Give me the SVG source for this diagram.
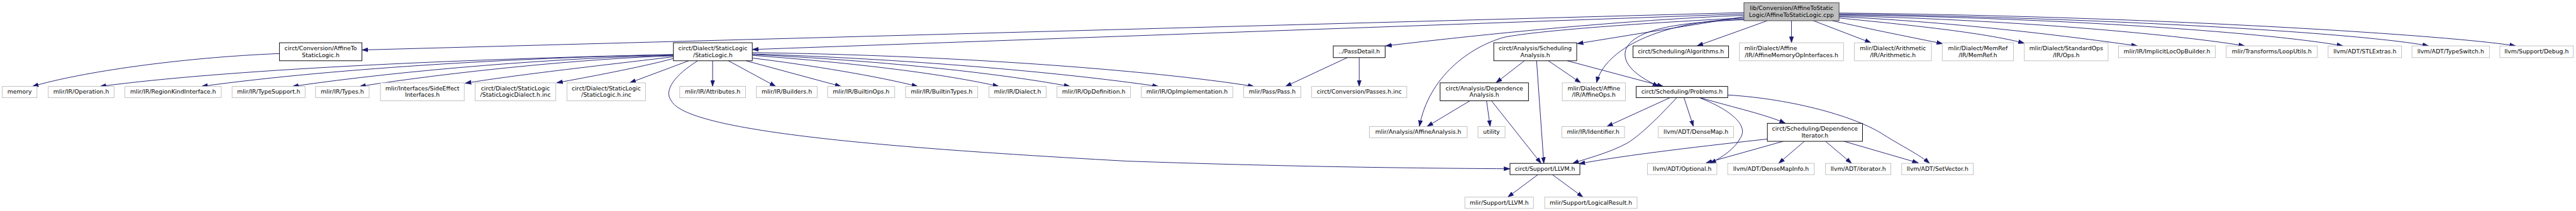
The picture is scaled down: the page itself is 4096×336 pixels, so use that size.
<svg xmlns="http://www.w3.org/2000/svg" width="4096" height="336" viewBox="0 0 4096 336">
<style>
.u rect{fill:#fff;stroke:#bfbfbf;stroke-width:1.33}
.d rect{fill:#fff;stroke:#000;stroke-width:1.33}
.r rect{fill:#bfbfbf;stroke:#404040;stroke-width:1.33}
text{font-family:"DejaVu Sans",sans-serif;font-size:13px;fill:#000;text-anchor:middle}
text.l{text-anchor:start}
#edges path{fill:none;stroke:#191970;stroke-width:1.3;marker-end:url(#ah)}
</style>
<defs>
<marker id="ah" markerUnits="userSpaceOnUse" markerWidth="14" markerHeight="10" refX="13.5" refY="5" orient="auto" viewBox="0 0 14 10">
<path d="M0,0.4 L13.5,5 L0,9.6 z" fill="#191970" stroke="#191970" stroke-width="0.8"/>
</marker>
</defs>
<rect width="4096" height="336" fill="#fff"/>
<g transform="scale(0.71671)">
<g id="edges">
<path d="M3869,28 L803,111"/>
<path d="M3869,31 L1669,110"/>
<path d="M3869,34 C3600,45 3300,75 3074,102"/>
<path d="M3869,40 C3700,48 3420,66 3336,83 C3260,105 3170,170 3149,281"/>
<path d="M3869,37 L3499,97"/>
<path d="M3921,46 L3765,102"/>
<path d="M3869,42 C3680,47 3560,110 3542,184"/>
<path d="M3869,44 C3700,50 3620,70 3606,113 C3598,150 3650,178 3680,192"/>
<path d="M3974.5,46 L3974.5,95"/>
<path d="M4023,46 L4151,95"/>
<path d="M4065,46 C4150,65 4250,85 4310,97"/>
<path d="M4080,40 C4230,55 4400,72 4491,96"/>
<path d="M4080,37 C4350,50 4600,82 4742,102"/>
<path d="M4080,35 C4500,45 4850,80 4980,102"/>
<path d="M4080,33 C4600,40 5050,75 5198,102"/>
<path d="M4080,31 C4700,40 5250,75 5388,102"/>
<path d="M4080,29 C4800,36 5450,80 5581,102"/>
<path d="M620,119 C400,128 180,160 72,192"/>
<path d="M1494,121 C1000,132 500,155 222,192"/>
<path d="M1494,122 C1200,126 750,150 447,192"/>
<path d="M1494,123 C1250,128 900,155 649,192"/>
<path d="M1494,124 C1300,130 1000,160 798,192"/>
<path d="M1494,126 C1400,138 1150,165 1032,185"/>
<path d="M1494,130 C1420,150 1300,172 1235,184"/>
<path d="M1528,135 L1397,184"/>
<path d="M1581,135 L1581,192"/>
<path d="M1616,135 L1721,192"/>
<path d="M1655,135 L1866,192"/>
<path d="M1669,129 C1800,145 1950,170 2036,192"/>
<path d="M1669,123 C1900,140 2100,165 2216,192"/>
<path d="M1669,121 C1950,135 2200,160 2374,192"/>
<path d="M1669,120 C2000,130 2350,160 2570,192"/>
<path d="M1669,117 C2100,122 2550,155 2782,192"/>
<path d="M1548,135 C1500,165 1470,200 1490,225 C1530,295 2000,330 2500,358 C2900,372 3200,374 3350,375"/>
<path d="M2989,128 L2852,192"/>
<path d="M3015.5,128 L3015.5,192"/>
<path d="M3382,135 L3319,184"/>
<path d="M3409,135 L3425,363"/>
<path d="M3435,135 L3507,184"/>
<path d="M3477,135 L3690,192"/>
<path d="M3261,224 L3166,281"/>
<path d="M3298,224 L3306,281"/>
<path d="M3309,224 L3419,363"/>
<path d="M3705,217 L3565,281"/>
<path d="M3720,217 C3680,260 3640,300 3610,318 C3570,340 3520,352 3489,363"/>
<path d="M3736,217 L3757,281"/>
<path d="M3772,217 C3850,240 3920,255 3961,274"/>
<path d="M3772,218 C3830,240 3880,275 3862,305 C3850,330 3820,350 3794,363"/>
<path d="M3833,211 C3980,220 4120,260 4180,300 C4220,325 4260,345 4281,363"/>
<path d="M3921,309 C3800,322 3600,345 3503,364"/>
<path d="M3956,314 L3785,362"/>
<path d="M4003,314 L3946,363"/>
<path d="M4050,314 L4108,363"/>
<path d="M4091,314 L4256,362"/>
<path d="M3412,388 L3345,438"/>
<path d="M3444,388 L3512,438"/>
</g>
<g id="n_root" class="r"><rect x="3869" y="6" width="211" height="40"/><text x="3974.5" y="22.5">lib/Conversion/AffineToStatic</text><text x="3974.5" y="37.5">Logic/AffineToStaticLogic.cpp</text></g>
<g id="n_a2sl" class="d"><rect x="620" y="95" width="183" height="40"/><text x="711.5" y="111.5">circt/Conversion/AffineTo</text><text x="711.5" y="126.5">StaticLogic.h</text></g>
<g id="n_sl" class="d"><rect x="1494" y="95" width="175" height="40"/><text x="1581.5" y="111.5">circt/Dialect/StaticLogic</text><text x="1581.5" y="126.5">/StaticLogic.h</text></g>
<g id="n_pd" class="d"><rect x="2958" y="102" width="115" height="26"/><text x="3015.5" y="119">../PassDetail.h</text></g>
<g id="n_sa" class="d"><rect x="3314" y="95" width="184" height="40"/><text x="3406" y="111.5">circt/Analysis/Scheduling</text><text x="3406" y="126.5">Analysis.h</text></g>
<g id="n_alg" class="d"><rect x="3623" y="102" width="212" height="26"/><text x="3729" y="119">circt/Scheduling/Algorithms.h</text></g>
<g id="n_amoi" class="u"><rect x="3859" y="95" width="231" height="40"/><text class="l" x="3870" y="111.5">mlir/Dialect/Affine</text><text x="3974.5" y="126.5">/IR/AffineMemoryOpInterfaces.h</text></g>
<g id="n_arith" class="u"><rect x="4114" y="95" width="171" height="40"/><text x="4199.5" y="111.5">mlir/Dialect/Arithmetic</text><text x="4199.5" y="126.5">/IR/Arithmetic.h</text></g>
<g id="n_memref" class="u"><rect x="4309" y="95" width="158" height="40"/><text x="4388" y="111.5">mlir/Dialect/MemRef</text><text x="4388" y="126.5">/IR/MemRef.h</text></g>
<g id="n_std" class="u"><rect x="4491" y="95" width="186" height="40"/><text x="4584" y="111.5">mlir/Dialect/StandardOps</text><text x="4584" y="126.5">/IR/Ops.h</text></g>
<g id="n_iloc" class="u"><rect x="4700" y="102" width="215" height="26"/><text x="4807.5" y="119">mlir/IR/ImplicitLocOpBuilder.h</text></g>
<g id="n_loop" class="u"><rect x="4939" y="102" width="202" height="26"/><text x="5040" y="119">mlir/Transforms/LoopUtils.h</text></g>
<g id="n_stl" class="u"><rect x="5165" y="102" width="163" height="26"/><text x="5246.5" y="119">llvm/ADT/STLExtras.h</text></g>
<g id="n_ts" class="u"><rect x="5351" y="102" width="172" height="26"/><text x="5437" y="119">llvm/ADT/TypeSwitch.h</text></g>
<g id="n_dbg" class="u"><rect x="5546" y="102" width="163" height="26"/><text x="5627.5" y="119">llvm/Support/Debug.h</text></g>
<g id="n_memory" class="u"><rect x="5" y="192" width="77" height="25"/><text x="43.5" y="208.5">memory</text></g>
<g id="n_op" class="u"><rect x="107" y="192" width="146" height="25"/><text x="180" y="208.5">mlir/IR/Operation.h</text></g>
<g id="n_rki" class="u"><rect x="277" y="192" width="214" height="25"/><text x="384" y="208.5">mlir/IR/RegionKindInterface.h</text></g>
<g id="n_tsup" class="u"><rect x="515" y="192" width="162" height="25"/><text x="596" y="208.5">mlir/IR/TypeSupport.h</text></g>
<g id="n_types" class="u"><rect x="700" y="192" width="119" height="25"/><text x="759.5" y="208.5">mlir/IR/Types.h</text></g>
<g id="n_sei" class="u"><rect x="844" y="184" width="186" height="40"/><text x="937" y="200.5">mlir/Interfaces/SideEffect</text><text x="937" y="215.5">Interfaces.h</text></g>
<g id="n_sld" class="u"><rect x="1054" y="184" width="179" height="40"/><text x="1143.5" y="200.5">circt/Dialect/StaticLogic</text><text x="1143.5" y="215.5">/StaticLogicDialect.h.inc</text></g>
<g id="n_slinc" class="u"><rect x="1258" y="184" width="174" height="40"/><text x="1345" y="200.5">circt/Dialect/StaticLogic</text><text x="1345" y="215.5">/StaticLogic.h.inc</text></g>
<g id="n_attr" class="u"><rect x="1508" y="192" width="146" height="25"/><text x="1581" y="208.5">mlir/IR/Attributes.h</text></g>
<g id="n_bld" class="u"><rect x="1678" y="192" width="135" height="25"/><text x="1745.5" y="208.5">mlir/IR/Builders.h</text></g>
<g id="n_bops" class="u"><rect x="1836" y="192" width="149" height="25"/><text x="1910.5" y="208.5">mlir/IR/BuiltinOps.h</text></g>
<g id="n_btypes" class="u"><rect x="2009" y="192" width="160" height="25"/><text x="2089" y="208.5">mlir/IR/BuiltinTypes.h</text></g>
<g id="n_dial" class="u"><rect x="2194" y="192" width="127" height="25"/><text x="2257.5" y="208.5">mlir/IR/Dialect.h</text></g>
<g id="n_opdef" class="u"><rect x="2345" y="192" width="163" height="25"/><text x="2426.5" y="208.5">mlir/IR/OpDefinition.h</text></g>
<g id="n_opimpl" class="u"><rect x="2532" y="192" width="203" height="25"/><text x="2633.5" y="208.5">mlir/IR/OpImplementation.h</text></g>
<g id="n_pass" class="u"><rect x="2759" y="192" width="127" height="25"/><text x="2822.5" y="208.5">mlir/Pass/Pass.h</text></g>
<g id="n_passinc" class="u"><rect x="2910" y="192" width="211" height="25"/><text x="3015.5" y="208.5">circt/Conversion/Passes.h.inc</text></g>
<g id="n_da" class="d"><rect x="3195" y="184" width="196" height="40"/><text x="3293" y="200.5">circt/Analysis/Dependence</text><text x="3293" y="215.5">Analysis.h</text></g>
<g id="n_aops" class="u"><rect x="3466" y="184" width="140" height="40"/><text x="3536" y="200.5">mlir/Dialect/Affine</text><text x="3536" y="215.5">/IR/AffineOps.h</text></g>
<g id="n_prob" class="d"><rect x="3630" y="192" width="203" height="25"/><text x="3731.5" y="208.5">circt/Scheduling/Problems.h</text></g>
<g id="n_aa" class="u"><rect x="3038" y="281" width="217" height="25"/><text x="3146.5" y="297.5">mlir/Analysis/AffineAnalysis.h</text></g>
<g id="n_util" class="u"><rect x="3279" y="281" width="60" height="25"/><text x="3309" y="297.5">utility</text></g>
<g id="n_ident" class="u"><rect x="3465" y="281" width="139" height="25"/><text x="3534.5" y="297.5">mlir/IR/Identifier.h</text></g>
<g id="n_dmap" class="u"><rect x="3679" y="281" width="167" height="25"/><text x="3762.5" y="297.5">llvm/ADT/DenseMap.h</text></g>
<g id="n_di" class="d"><rect x="3921" y="274" width="211" height="40"/><text x="4026.5" y="290.5">circt/Scheduling/Dependence</text><text x="4026.5" y="305.5">Iterator.h</text></g>
<g id="n_cllvm" class="d"><rect x="3350" y="363" width="155" height="25"/><text x="3427.5" y="379.5">circt/Support/LLVM.h</text></g>
<g id="n_opt" class="u"><rect x="3655" y="363" width="154" height="25"/><text x="3732" y="379.5">llvm/ADT/Optional.h</text></g>
<g id="n_dmi" class="u"><rect x="3833" y="363" width="192" height="25"/><text x="3929" y="379.5">llvm/ADT/DenseMapInfo.h</text></g>
<g id="n_iter" class="u"><rect x="4050" y="363" width="145" height="25"/><text x="4122.5" y="379.5">llvm/ADT/iterator.h</text></g>
<g id="n_setv" class="u"><rect x="4219" y="363" width="159" height="25"/><text x="4298.5" y="379.5">llvm/ADT/SetVector.h</text></g>
<g id="n_mllvm" class="u"><rect x="3250" y="438" width="152" height="25"/><text x="3326" y="454.5">mlir/Support/LLVM.h</text></g>
<g id="n_lr" class="u"><rect x="3427" y="438" width="205" height="25"/><text x="3529.5" y="454.5">mlir/Support/LogicalResult.h</text></g>
</g>
</svg>
